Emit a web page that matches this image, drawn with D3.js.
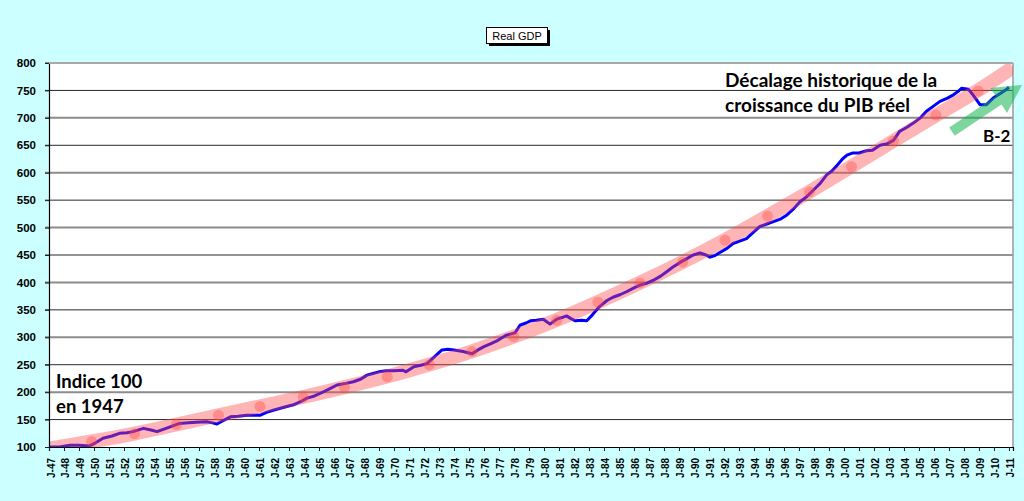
<!DOCTYPE html>
<html>
<head>
<meta charset="utf-8">
<script src="https://cdn.jsdelivr.net/npm/d3@7"></script>
<style>
  html, body { margin: 0; padding: 0; background: #ccffff; }
  svg { display: block; }
  .ylab text { font-family: "Liberation Sans", Arial, sans-serif; font-weight: bold; font-size: 11.5px; fill: #000; }
  .xlab text { font-family: "Liberation Sans", Arial, sans-serif; font-weight: bold; font-size: 10px; fill: #000; }
  .note { font-family: Lato, "Open Sans", sans-serif; font-weight: bold; fill: #000; }
</style>
</head>
<body>
<svg id="chart" width="1024" height="501"></svg>
<script>
// ---------- DATA ----------
const chartTitle = "Real GDP";
const tickYears = d3.range(1947, 2012);           // J-47 ... J-11
const yTicks = d3.range(100, 801, 50);

// Real GDP index (1947 = 100)
const gdpDates = [1947.0,1947.7,1948.4,1949.0,1949.7,1950.0,1950.6,1951.2,1951.7,1952.2,1952.6,1953.3,1953.8,1954.2,1954.8,1955.3,1955.7,1956.3,1956.8,1957.5,1957.9,1958.2,1958.6,1959.1,1959.6,1960.2,1960.7,1961.1,1961.5,1961.95,1962.6,1963.3,1963.8,1964.2,1964.7,1965.1,1965.7,1966.2,1966.8,1967.3,1967.8,1968.2,1968.6,1969.0,1969.5,1970.0,1970.6,1970.8,1971.3,1971.8,1972.2,1972.6,1973.2,1973.6,1974.0,1974.6,1975.2,1975.6,1976.0,1976.5,1976.9,1977.5,1978.07,1978.4,1978.8,1979.1,1979.5,1979.95,1980.4,1980.85,1981.2,1981.5,1981.8,1982.1,1982.5,1982.85,1983.2,1983.7,1984.2,1984.6,1985.1,1985.5,1986.0,1986.4,1986.9,1987.3,1987.8,1988.2,1988.6,1989.1,1989.5,1989.95,1990.4,1990.8,1991.07,1991.4,1991.7,1992.2,1992.6,1993.0,1993.5,1993.9,1994.4,1994.9,1995.3,1995.8,1996.2,1996.6,1997.07,1997.5,1997.95,1998.4,1998.85,1999.2,1999.5,1999.9,2000.2,2000.6,2001.0,2001.5,2001.9,2002.4,2002.9,2003.3,2003.7,2004.2,2004.6,2005.1,2005.5,2005.9,2006.4,2006.9,2007.3,2007.6,2007.85,2008.3,2008.6,2009.07,2009.5,2009.95,2010.4,2010.85,2011.0];
const gdpValues = [100,100,103,103,102,106,116,120,125,126,128,134,131,128,134,139,143,144,145,146,144,142,148,155,156,158,158,158,163,167,172,177,183,189,193,198,206,213,216,219,224,231,234,237,239,239,240,237,246,249,252,262,277,278,277,274,270,277,283,289,294,304,308,322,326,330,331,333,324,333,336,339,334,330,331,330,340,356,367,373,378,383,390,395,399,404,412,420,428,437,443,450,454,450,446,449,454,462,471,475,480,490,502,507,511,516,523,533,547,556,568,580,596,603,612,625,632,636,636,640,641,650,653,659,675,683,690,700,712,720,730,736,742,748,754,752,742,724,724,736,744,752,756];

// Historical growth trend (red band) and its markers
const trendDates  = [1947.0,1949.85,1952.7,1955.5,1958.3,1961.07,1963.95,1966.7,1969.55,1972.35,1975.2,1978.0,1980.85,1983.6,1986.4,1989.25,1992.07,1994.9,1997.7,2000.5,2003.3,2006.13,2008.95,2011.27];
const trendValues = [97,110,124,141,158,174,191,209,228,250,274,301,331,364,399,437,477,521,565,611,658,705,749,792];
const markerDates  = trendDates.slice(1, -1);
const markerValues = trendValues.slice(1, -1);

// Green arrow (tail / tip, in data units)
const arrowFrom = [2007.2, 675];
const arrowTo   = [2011.87, 760];

// ---------- LAYOUT ----------
const svg = d3.select("#chart");
const L = 49, R = 1013, T = 63, B = 447;
const x = d3.scaleLinear().domain([1947, 2011.27]).range([L, R]);
const y = d3.scaleLinear().domain([100, 800]).range([B, T]);

// plot area
svg.append("rect").attr("x", L).attr("y", T).attr("width", R - L).attr("height", B - T).attr("fill", "#fff");

// grid lines
svg.append("g").selectAll("line").data(yTicks.filter(v => v > 100)).join("line")
  .attr("x1", L - 4).attr("x2", R)
  .attr("y1", d => y(d)).attr("y2", d => y(d))
  .attr("stroke", d => d % 100 === 0 ? "#8c8c8c" : "#2a2a2a")
  .attr("stroke-width", d => d % 100 === 0 ? 2 : 1);

// right border
svg.append("line").attr("x1", R).attr("x2", R).attr("y1", T).attr("y2", B).attr("stroke", "#9a9a9a").attr("stroke-width", 1.5);

// clip
svg.append("clipPath").attr("id", "clip").append("rect")
  .attr("x", L).attr("y", T).attr("width", R - L).attr("height", B - T);

const plot = svg.append("g").attr("clip-path", "url(#clip)");

// blue GDP line
const gdp = gdpDates.map((d, i) => [d, gdpValues[i]]);
plot.append("path").datum(gdp)
  .attr("fill", "none").attr("stroke", "#0000ff").attr("stroke-width", 3)
  .attr("stroke-linejoin", "round")
  .attr("d", d3.line().x(d => x(d[0])).y(d => y(d[1])));

// red trend band
const trend = trendDates.map((d, i) => [d, trendValues[i]]);
plot.append("path").datum(trend)
  .attr("fill", "none").attr("stroke", "rgba(255,70,70,0.40)").attr("stroke-width", 14)
  .attr("d", d3.line().curve(d3.curveBasis).x(d => x(d[0])).y(d => y(d[1])));

// markers
plot.append("g").selectAll("circle").data(markerDates.map((d, i) => [d, markerValues[i]])).join("circle")
  .attr("cx", d => x(d[0])).attr("cy", d => y(d[1])).attr("r", 5.5)
  .attr("fill", "rgba(255,70,70,0.38)");

// axes
const yAxis = svg.append("g").attr("class", "ylab").attr("transform", `translate(${L},0)`)
  .call(d3.axisLeft(y).tickValues(yTicks).tickSize(4).tickPadding(9).tickFormat(d3.format("d")));
yAxis.select(".domain").attr("stroke", "#000").attr("stroke-width", 1.2);
yAxis.selectAll(".tick line").attr("stroke", "#222");

const xAxis = svg.append("g").attr("class", "xlab").attr("transform", `translate(0,${B})`)
  .call(d3.axisBottom(x).tickValues(tickYears).tickSize(4).tickFormat(d => "J-" + String(d).slice(2)));
xAxis.select(".domain").attr("stroke", "#000").attr("stroke-width", 1.2);
xAxis.selectAll(".tick line").attr("stroke", "#222");
xAxis.selectAll(".tick text")
  .attr("text-anchor", "end").attr("dy", null).attr("y", null)
  .attr("transform", "translate(5,11) rotate(-90)");

// top border
svg.append("line").attr("x1", L).attr("x2", R).attr("y1", T).attr("y2", T).attr("stroke", "#a8a8a8").attr("stroke-width", 2);

// green arrow
(function () {
  const x0 = x(arrowFrom[0]), y0 = y(arrowFrom[1]);
  const x1 = x(arrowTo[0]), y1 = y(arrowTo[1]);
  const len = Math.hypot(x1 - x0, y1 - y0);
  const ang = Math.atan2(y1 - y0, x1 - x0) * 180 / Math.PI;
  const sw = 5, hw = 15, hl = 28;
  const pts = [[0, -sw], [len - hl, -sw], [len - hl, -hw], [len, 0], [len - hl, hw], [len - hl, sw], [0, sw]];
  svg.append("path")
    .attr("d", "M" + pts.map(p => p.join(",")).join("L") + "Z")
    .attr("transform", `translate(${x0},${y0}) rotate(${ang})`)
    .attr("fill", "rgba(20,180,80,0.55)");
})();

// annotations
svg.append("text").attr("class", "note").attr("x", 725).attr("y", 87).attr("font-size", 19).text("Décalage historique de la");
svg.append("text").attr("class", "note").attr("x", 725).attr("y", 112).attr("font-size", 19).text("croissance du PIB réel");
svg.append("text").attr("class", "note").attr("x", 983).attr("y", 142).attr("font-size", 17).text("B-2");
svg.append("text").attr("class", "note").attr("x", 56).attr("y", 388).attr("font-size", 18.5).text("Indice 100");
svg.append("text").attr("class", "note").attr("x", 56).attr("y", 413).attr("font-size", 18.5).text("en 1947");

// title box
svg.append("rect").attr("x", 489).attr("y", 30).attr("width", 61).attr("height", 16).attr("fill", "#000");
svg.append("rect").attr("x", 486.5).attr("y", 27.5).attr("width", 61).attr("height", 16).attr("fill", "#fff").attr("stroke", "#000").attr("stroke-width", 1);
svg.append("text").attr("x", 517).attr("y", 39.5).attr("text-anchor", "middle")
  .attr("font-family", "'Liberation Sans', Arial, sans-serif").attr("font-size", 11).text(chartTitle);
</script>
</body>
</html>
